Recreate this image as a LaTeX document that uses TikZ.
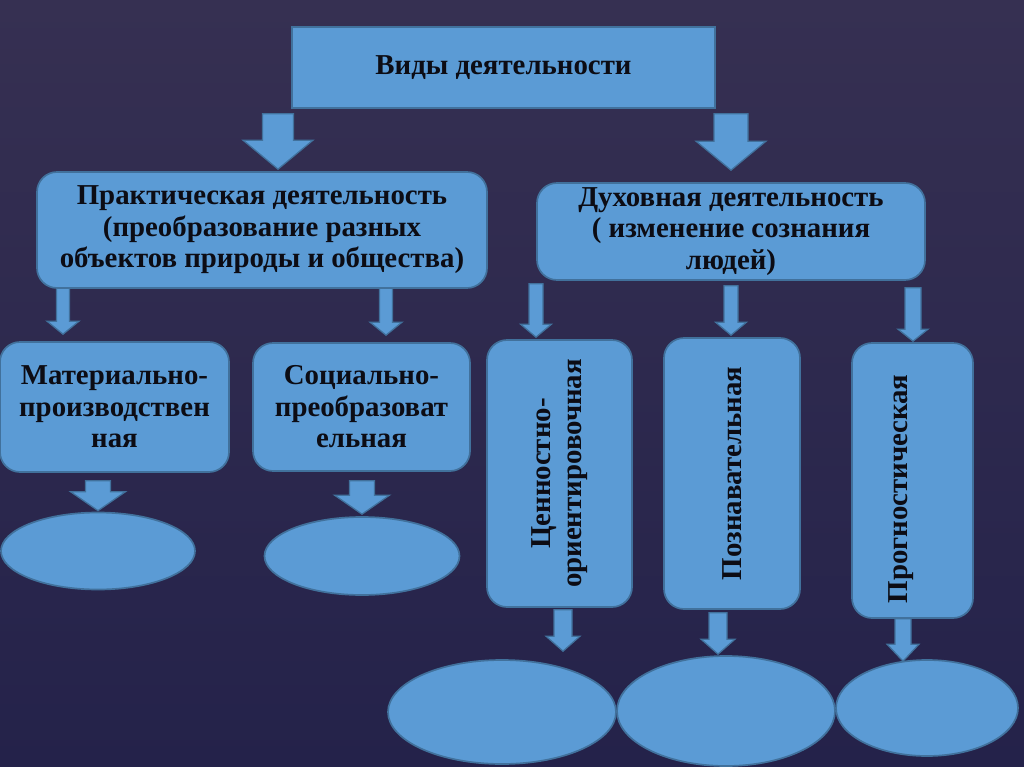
\documentclass[tikz,border=0pt]{standalone}
\usepackage{fontspec}
\setmainfont{Liberation Serif}
\usepackage{tikz}
\usetikzlibrary{
	calc,
	shapes.geometric}

\definecolor{boxfill}{RGB}{91,155,213}
\definecolor{boxline}{RGB}{65,113,156}
\definecolor{bgtop}{RGB}{54,48,82}
\definecolor{bgbot}{RGB}{36,34,74}
\definecolor{ink}{RGB}{12,12,20}

\newlength\pxunit
\setlength\pxunit{0.025cm}

\pgfdeclarelayer{back}
\pgfsetlayers{back,main}

\tikzset{
  box/.style 2 args={draw=boxline, fill=boxfill, line width=1.2pt, text=ink,
    font=\bfseries\fontsize{20.5}{22.4}\selectfont, align=center,
    minimum width=#1*\pxunit, minimum height=#2*\pxunit, inner sep=0pt},
  rbox/.style 2 args={box={#1}{#2}, rounded corners=0.5cm},
  oval/.style 2 args={ellipse, draw=boxline, fill=boxfill, line width=1.2pt,
    minimum width=#1*\pxunit, minimum height=#2*\pxunit, inner sep=0pt},
  blockarrow/.style={draw=boxline, fill=boxfill, line width=0.9pt, line join=miter}
}

% block arrow: start, tip, shaft half width, head half width, head length
\newcommand{\blockarrow}[5]{%
  \path #1 coordinate (ba-s) #2 coordinate (ba-t);
  \begin{pgfonlayer}{back}
    \draw[blockarrow] ($(ba-s)+(-#3,0)$) -- ($(ba-t)+(-#3,-#5)$) -- ($(ba-t)+(-#4,-#5)$)
      -- (ba-t) -- ($(ba-t)+(#4,-#5)$) -- ($(ba-t)+(#3,-#5)$) -- ($(ba-s)+(#3,0)$) -- cycle;
  \end{pgfonlayer}}

\begin{document}
\begin{tikzpicture}[x=0.025cm, y=-0.025cm]
  \begin{pgfonlayer}{back}
    \shade[top color=bgtop, bottom color=bgbot] (0,0) rectangle (1024,767);
  \end{pgfonlayer}
  \useasboundingbox (0,0) rectangle (1024,767);

  % Activity types
  \node[box={423}{81}] (VD) at (503.5,67.5) {Виды деятельности};
  \node[rbox={450}{116}] (PD) at (262,230) {Практическая деятельность\\(преобразование разных\\объектов природы и общества)};
  \node[rbox={388}{97}] (DD) at (731,231.5) {Духовная деятельность\\( изменение сознания\\людей)};
  \node[rbox={229}{130}] (MP) at (114.5,407) {Материально-\\производствен\\ная};
  \node[rbox={217}{128}] (SP) at (361.5,407) {Социально-\\преобразоват\\ельная};
  \node[rbox={145}{267}] (CO) at (559.5,473.5) {\rotatebox{90}{\begin{tabular}{@{}c@{}}Ценностно-\\ориентировочная\end{tabular}}};
  \node[rbox={136}{271}] (PZ) at (732,473.5) {\rotatebox{90}{Познавательная}};
  \node[rbox={121}{275}] (PG) at (912.5,480.5) {\rotatebox{90}{Прогностическая\hspace{12pt}}\hspace{16pt}};

  \node[oval={194}{77}] (E1) at (98,551) {};
  \node[oval={195}{78}] (E2) at (362,556) {};
  \node[oval={228}{104}] (E3) at (502,712) {};
  \node[oval={218}{110}] (E4) at (726,711) {};
  \node[oval={182}{96}] (E5) at (927,708) {};

  \blockarrow{($(278,0 |- VD.south)+(0,5)$)}{($(278,0 |- PD.north)+(0,-2)$)}{15.5}{35}{29}
  \blockarrow{($(731,0 |- VD.south)+(0,5)$)}{($(731,0 |- DD.north)+(0,-12)$)}{17}{35}{29}
  \blockarrow{($(63,0 |- PD.south)+(0,-8)$)}{($(63,0 |- MP.north)+(0,-7)$)}{6.5}{16}{13}
  \blockarrow{($(386,0 |- PD.south)+(0,-8)$)}{($(386,0 |- SP.north)+(0,-7)$)}{6.5}{16}{13}
  \blockarrow{($(536,0 |- DD.south)+(0,3)$)}{($(536,0 |- CO.north)+(0,-2)$)}{7}{15.5}{13}
  \blockarrow{($(731,0 |- DD.south)+(0,5)$)}{($(731,0 |- PZ.north)+(0,-2)$)}{7}{15.5}{13}
  \blockarrow{($(913,0 |- DD.south)+(0,7)$)}{($(913,0 |- PG.north)+(0,-1)$)}{8}{15}{12}
  \blockarrow{($(98,0 |- MP.south)+(0,8)$)}{($(98,0 |- E1.north)+(0,-1)$)}{12.5}{27.5}{19}
  \blockarrow{($(362,0 |- SP.south)+(0,9)$)}{($(362,0 |- E2.north)+(0,-2)$)}{12.5}{27.5}{19}
  \blockarrow{($(563,0 |- CO.south)+(0,2)$)}{($(563,0 |- E3.north)+(0,-8)$)}{9}{17}{15}
  \blockarrow{($(718,0 |- PZ.south)+(0,3)$)}{($(718,0 |- E4.north)+(0,-1)$)}{9}{17}{15}
  \blockarrow{($(903,0 |- PG.south)+(0,0)$)}{($(903,0 |- E5.north)+(0,2)$)}{8}{16}{17}
\end{tikzpicture}
\end{document}
